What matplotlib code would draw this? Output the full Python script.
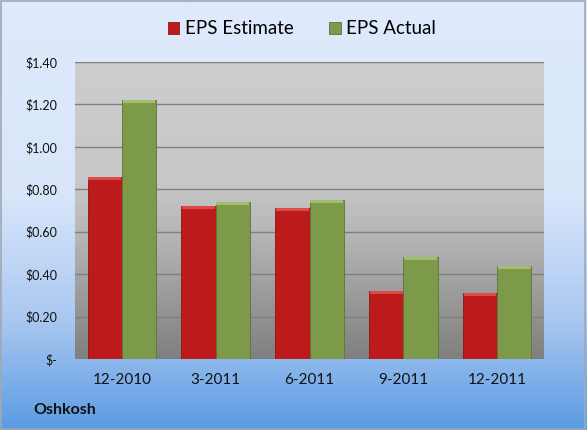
import numpy as np
import matplotlib
matplotlib.use("Agg")
import matplotlib.pyplot as plt
from matplotlib.colors import LinearSegmentedColormap

categories = ["12-2010", "3-2011", "6-2011", "9-2011", "12-2011"]
eps_estimate = [0.86, 0.72, 0.71, 0.32, 0.31]
eps_actual = [1.22, 0.74, 0.75, 0.48, 0.44]
series_names = ["EPS Estimate", "EPS Actual"]
yticks = [0.0, 0.2, 0.4, 0.6, 0.8, 1.0, 1.2, 1.4]
ytick_labels = ["$-", "$0.20", "$0.40", "$0.60", "$0.80", "$1.00", "$1.20", "$1.40"]
company = "Oshkosh"

plt.rcParams['font.family'] = ['Lato', 'DejaVu Sans']

W, H = 587, 430
fig = plt.figure(figsize=(W / 100, H / 100), dpi=100)

# figure background gradient
bg = fig.add_axes([0, 0, 1, 1], zorder=-10)
bg_cmap = LinearSegmentedColormap.from_list(
    "bg", [(0.0, "#dfeafc"), (0.45, "#d9e6fa"), (0.75, "#a8c7f0"), (1.0, "#5b9be3")])
grad = np.linspace(0, 1, 256).reshape(-1, 1)
bg.imshow(grad, aspect="auto", cmap=bg_cmap, extent=[0, 1, 0, 1], origin="upper")
bg.set_xlim(0, 1); bg.set_ylim(0, 1)
bg.axis("off")
bg.add_patch(plt.Rectangle((0.002, 0.003), 0.995, 0.994, fill=False,
                           edgecolor="#a0a8b4", linewidth=1.2, transform=bg.transAxes))

left, right = 75 / W, 544 / W
top, bottom = 1 - 62 / H, 1 - 359 / H
ax = fig.add_axes([left, bottom, right - left, top - bottom])

# plot-area gradient
pa_cmap = LinearSegmentedColormap.from_list(
    "pa", [(0.0, "#cdcdcd"), (0.4, "#c8c8c8"), (0.6, "#b4b4b4"), (1.0, "#7f7f7f")])
ax.imshow(grad, aspect="auto", cmap=pa_cmap, extent=[-0.5, len(categories) - 0.5, 0, 1.4],
          origin="upper", zorder=0)

x = np.arange(len(categories))
w = 0.365
bev = 0.014
for vals, off, main, light, edge, name in [
        (eps_estimate, -w / 2, "#bd1b1b", "#dc4a4a", "#8c1414", series_names[0]),
        (eps_actual, w / 2, "#7d9a4a", "#a3bd6c", "#5d7434", series_names[1])]:
    ax.bar(x + off, vals, width=w, color=main, edgecolor=edge, linewidth=0.6,
           zorder=3, label=name)
    v = np.array(vals)
    ax.bar(x + off, [bev] * len(v), bottom=v - bev, width=w * 0.96, color=light,
           edgecolor="none", zorder=4)

ax.set_xlim(-0.5, len(categories) - 0.5)
ax.set_ylim(0, 1.4)
ax.set_yticks(yticks)
ax.set_yticklabels(ytick_labels)
ax.set_xticks(x)
ax.set_xticklabels(categories)
ax.yaxis.grid(True, color="#7f7f7f", linewidth=1.0, zorder=1)
ax.set_axisbelow(False)
for s in ax.spines.values():
    s.set_visible(False)
ax.tick_params(axis="y", length=0, pad=13, labelsize=9, labelcolor="#111111")
ax.tick_params(axis="x", length=0, pad=10, labelsize=11, labelcolor="#111111")
for gl in ax.get_ygridlines():
    gl.set_zorder(1)

handles, labels = ax.get_legend_handles_labels()
fig.legend(handles[:2], labels[:2], loc="center", bbox_to_anchor=(302 / W, 1 - 29 / H),
           ncol=2, frameon=False, fontsize=13.5, handlelength=0.6, handleheight=0.6,
           handletextpad=0.3, columnspacing=1.9)

fig.text(33 / W, 1 - 410 / H, company, fontsize=11.5, fontweight="bold",
         ha="left", va="center", color="#111111")

fig.savefig("out.png", dpi=100)
